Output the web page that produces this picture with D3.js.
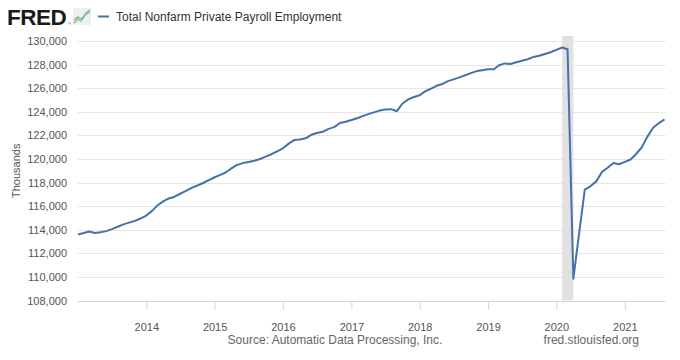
<!DOCTYPE html>
<html>
<head>
<meta charset="utf-8">
<script src="https://cdn.jsdelivr.net/npm/d3@7"></script>
<style>
  html, body { margin: 0; padding: 0; background: #fff; }
  svg { display: block; font-family: "Liberation Sans", Arial, sans-serif; }
</style>
</head>
<body>
<svg id="chart" width="680" height="360"></svg>
<script>
// ---- data (thousands of persons, monthly, Jan 2013 .. Aug 2021) ----
const seriesName = "Total Nonfarm Private Payroll Employment";
const firstMonth = "2013-01-01";
const payroll = [
  // 2013
  113600, 113720, 113850, 113720, 113780, 113880, 114050, 114250, 114450, 114600, 114750, 114950,
  // 2014
  115200, 115600, 116050, 116400, 116650, 116800, 117050, 117300, 117550, 117750, 117960, 118200,
  // 2015
  118450, 118650, 118850, 119200, 119500, 119650, 119750, 119850, 120000, 120200, 120400, 120650,
  // 2016
  120900, 121300, 121600, 121650, 121750, 122050, 122200, 122300, 122550, 122700, 123050, 123150,
  // 2017
  123300, 123450, 123630, 123800, 123950, 124100, 124200, 124220, 124050, 124700, 125050, 125250,
  // 2018
  125400, 125750, 125950, 126200, 126350, 126600, 126750, 126920, 127100, 127280, 127450, 127520,
  // 2019
  127600, 127600, 127950, 128100, 128050, 128200, 128330, 128450, 128650, 128750, 128900, 129050,
  // 2020
  129250, 129450, 129300, 109850, 113600, 117400, 117680, 118100, 118900, 119250, 119650, 119550,
  // 2021
  119750, 119950, 120400, 120970, 121870, 122650, 123020, 123350
];
const recessions = [["2020-02-01", "2020-04-01"]];
const yTickValues = [108000, 110000, 112000, 114000, 116000, 118000, 120000, 122000, 124000, 126000, 128000, 130000];
const xTickLabels = ["2014", "2015", "2016", "2017", "2018", "2019", "2020", "2021"];
const sourceText = "Source: Automatic Data Processing, Inc.";
const siteText = "fred.stlouisfed.org";
const yAxisTitle = "Thousands";

// ---- build ----
const parse = d3.timeParse("%Y-%m-%d");
const start = parse(firstMonth);
const data = payroll.map((v, i) => ({ date: d3.timeMonth.offset(start, i), value: v }));

const svg = d3.select("#chart");
const plot = { left: 78, right: 664.5, top: 41, bottom: 300.5 };

const x = d3.scaleTime()
  .domain(d3.extent(data, d => d.date))
  .range([plot.left, plot.right]);
const y = d3.scaleLinear()
  .domain([108000, 130000])
  .range([plot.bottom, plot.top]);

// gridlines
svg.append("g")
  .selectAll("line")
  .data(yTickValues.filter(v => v !== 108000))
  .join("line")
  .attr("x1", plot.left).attr("x2", plot.right + 1)
  .attr("y1", d => Math.round(y(d)) + 0.5).attr("y2", d => Math.round(y(d)) + 0.5)
  .attr("stroke", "#e6e6e6").attr("stroke-width", 1);

// recession shading
svg.append("g")
  .selectAll("rect")
  .data(recessions)
  .join("rect")
  .attr("x", d => x(parse(d[0])))
  .attr("width", d => x(parse(d[1])) - x(parse(d[0])))
  .attr("y", plot.top - 5)
  .attr("height", plot.bottom - plot.top + 5)
  .attr("fill", "#e1e1e1");

// y axis labels
const yAxis = d3.axisLeft(y)
  .tickValues(yTickValues)
  .tickFormat(d3.format(","))
  .tickSize(0)
  .tickPadding(0);
const gy = svg.append("g").attr("transform", `translate(${plot.left - 11},0)`).call(yAxis);
gy.select(".domain").remove();
gy.selectAll("text")
  .attr("fill", "#555")
  .attr("font-size", 11)
  .attr("font-family", "Liberation Sans, Arial, sans-serif");

// x axis
const xTicks = xTickLabels.map(s => parse(s + "-01-01"));
const xAxis = d3.axisBottom(x)
  .tickValues(xTicks)
  .tickFormat(d3.timeFormat("%Y"))
  .tickSize(8)
  .tickPadding(14);
const gx = svg.append("g").attr("transform", `translate(0,${Math.round(plot.bottom) + 0.5})`).call(xAxis);
gx.select(".domain").remove();
gx.selectAll(".tick line").attr("stroke", "#ccd6eb");
gx.selectAll("text")
  .attr("fill", "#555")
  .attr("font-size", 11)
  .attr("font-family", "Liberation Sans, Arial, sans-serif");
svg.append("line")
  .attr("x1", plot.left).attr("x2", plot.right + 1)
  .attr("y1", Math.round(plot.bottom) + 0.5).attr("y2", Math.round(plot.bottom) + 0.5)
  .attr("stroke", "#ccd6eb").attr("stroke-width", 1);

// y axis title
svg.append("text")
  .attr("transform", `translate(20,${(plot.top + plot.bottom) / 2}) rotate(-90)`)
  .attr("text-anchor", "middle")
  .attr("font-size", 11)
  .attr("fill", "#555")
  .text(yAxisTitle);

// series line
svg.append("path")
  .datum(data)
  .attr("fill", "none")
  .attr("stroke", "#4572a7")
  .attr("stroke-width", 2)
  .attr("stroke-linejoin", "round")
  .attr("d", d3.line().x(d => x(d.date)).y(d => y(d.value)));

// FRED logo
svg.append("text")
  .attr("x", 7).attr("y", 25)
  .attr("font-size", 22.5)
  .attr("font-weight", "bold")
  .attr("fill", "#1a1a1a")
  .attr("letter-spacing", -0.5)
  .text("FRED");
svg.append("text")
  .attr("x", 68).attr("y", 25)
  .attr("font-size", 4)
  .attr("fill", "#333")
  .text("®");
const icon = svg.append("g").attr("transform", "translate(73,8)");
icon.append("rect").attr("width", 18).attr("height", 17).attr("fill", "#eef0ee");
icon.append("polyline")
  .attr("points", "1,15 5,11 8,13 12,7 17,4")
  .attr("fill", "none").attr("stroke", "#8fbf6f").attr("stroke-width", 1.4);
icon.append("polyline")
  .attr("points", "1,12 5,9 9,11 13,5 17,2")
  .attr("fill", "none").attr("stroke", "#7aa0c8").attr("stroke-width", 1.2);

// legend
svg.append("line")
  .attr("x1", 98).attr("x2", 109).attr("y1", 16.5).attr("y2", 16.5)
  .attr("stroke", "#4572a7").attr("stroke-width", 2);
svg.append("text")
  .attr("x", 116).attr("y", 20.5)
  .attr("font-size", 12)
  .attr("fill", "#333")
  .text(seriesName);

// footer
svg.append("text")
  .attr("x", 335).attr("y", 344)
  .attr("text-anchor", "middle")
  .attr("font-size", 12)
  .attr("fill", "#666")
  .text(sourceText);
svg.append("text")
  .attr("x", 639).attr("y", 344)
  .attr("text-anchor", "end")
  .attr("font-size", 12)
  .attr("fill", "#666")
  .text(siteText);
</script>
</body>
</html>
